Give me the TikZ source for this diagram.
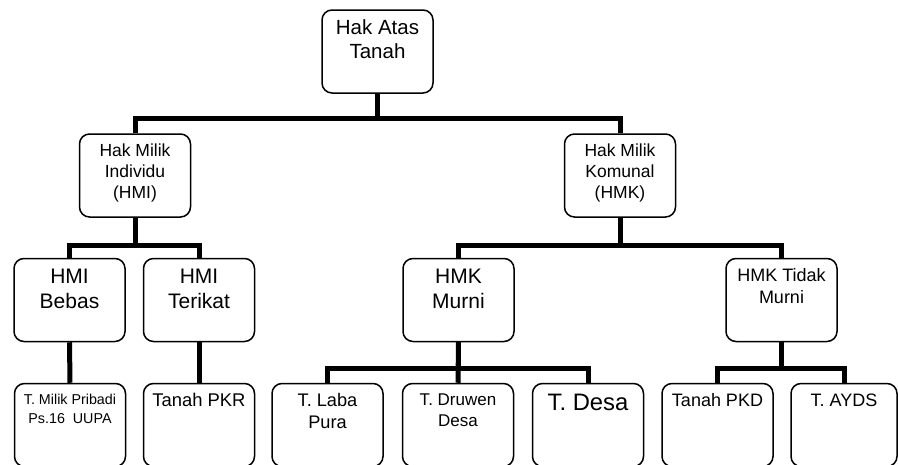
\documentclass[tikz,border=0pt]{standalone}
\usepackage{fontspec}
\setmainfont{Liberation Sans}
\newcommand{\boxtext}[3]{\parbox[c][68pt][t]{106pt}{\centering\fontsize{#1}{#2}\selectfont\strut #3}}

\begin{document}
\begin{tikzpicture}[x=1pt,y=-1pt,
    box/.style={draw,line width=1.5pt,rounded corners=10pt,minimum width=111pt,minimum height=83pt,inner sep=0pt},
    link/.style={line width=5pt}]
\clip (0,0) rectangle (898,464);
\path % all boxes first
    node[box] (hat) at (377.5,51.5) {\boxtext{20.5}{24}{Hak Atas\\Tanah}}
    node[box] (hmi) at (135,175.5) {\boxtext{17.5}{21}{Hak Milik\\Individu\\(HMI)}}
    node[box] (hmk) at (620,175.5) {\boxtext{17.5}{21}{Hak Milik\\Komunal\\(HMK)}}
    node[box] (bebas) at (69.5,300) {\boxtext{21}{25}{HMI\\Bebas}}
    node[box] (terikat) at (199,300) {\boxtext{21}{25}{HMI\\Terikat}}
    node[box] (murni) at (458.5,300) {\boxtext{21}{25}{HMK\\Murni}}
    node[box] (tmurni) at (781.5,300) {\boxtext{18}{22}{HMK Tidak\\Murni}}
    node[box] (pribadi) at (70,425) {\boxtext{14.3}{19}{T. Milik Pribadi\\Ps.16~~UUPA}}
    node[box] (pkr) at (199,425) {\boxtext{18.4}{22}{Tanah PKR}}
    node[box] (laba) at (327.5,425) {\boxtext{18.2}{22}{T. Laba\\Pura}}
    node[box] (druwen) at (458,425) {\boxtext{17}{21}{T. Druwen\\Desa}}
    node[box] (desa) at (588,425) {\boxtext{23.8}{28}{T. Desa}}
    node[box] (pkd) at (717.5,425) {\boxtext{18}{22}{Tanah PKD}}
    node[box,minimum width=106pt] (ayds) at (844,425) {\boxtext{18}{22}{T. AYDS}};

% first level
\draw[link] (hat.south) -- ++(0,25) -| (hmi.north);
\draw[link] (hat.south) -- ++(0,25) -| (hmk.north);
% second level
\draw[link] (hmi.south) -- ++(0,28) -| (bebas.north);
\draw[link] (hmi.south) -- ++(0,28) -| (terikat.north);
\draw[link] (hmk.south) -- ++(0,28) -| (murni.north);
\draw[link] (hmk.south) -- ++(0,28) -| (tmurni.north);
% third level
\draw[link] (bebas.south) -- (pribadi.north);
\draw[link] (terikat.south) -- (pkr.north);
\draw[link] (murni.south) -- ++(0,26) -| (laba.north);
\draw[link] (murni.south) -- (druwen.north);
\draw[link] (murni.south) -- ++(0,26) -| (desa.north);
\draw[link] (tmurni.south) -- ++(0,26) -| (pkd.north);
\draw[link] (tmurni.south) -- ++(0,26) -| (ayds.north);
\end{tikzpicture}
\end{document}
